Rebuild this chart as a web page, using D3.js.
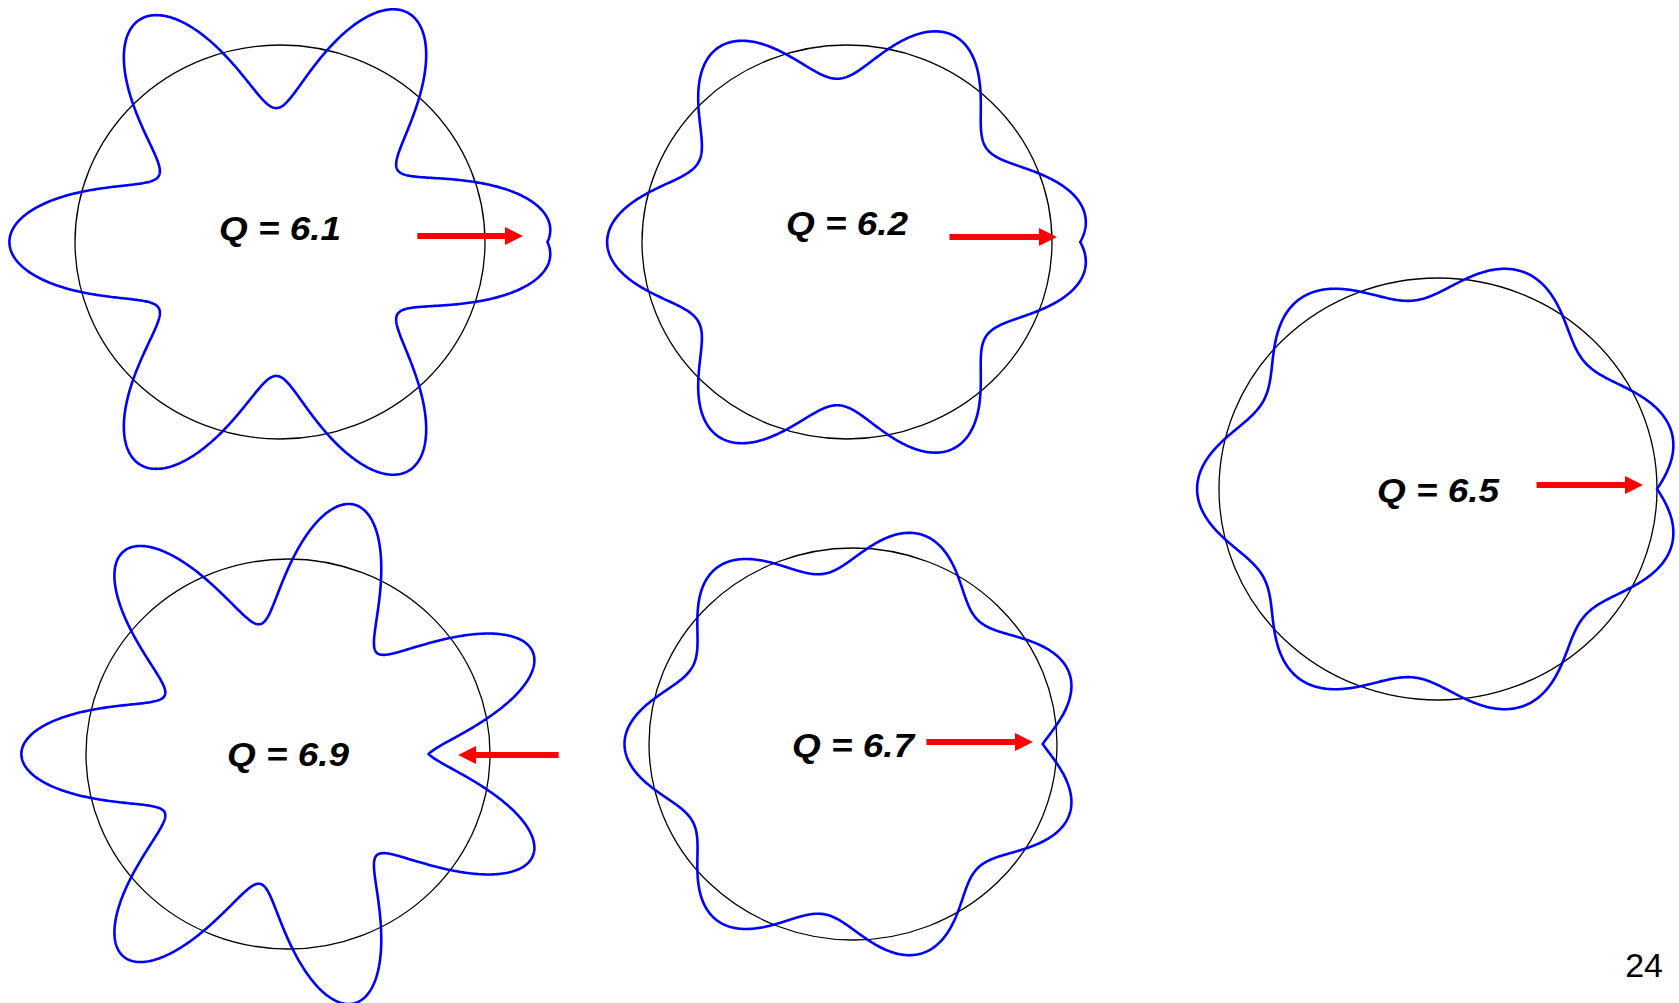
<!DOCTYPE html>
<html>
<head>
<meta charset="utf-8">
<script src="https://d3js.org/d3.v7.min.js"></script>
<style>
body { margin: 0; background: #fff; }
svg { display: block; }
.label { font-family: Arial, "Liberation Sans", sans-serif; font-weight: bold; font-style: italic; font-size: 33px; fill: #000; }
.page { font-family: Arial, "Liberation Sans", sans-serif; font-size: 34px; fill: #000; }
</style>
</head>
<body>
<svg width="1679" height="1003"></svg>
<script>
// tune of each closed orbit
var tunes = [6.1, 6.2, 6.5, 6.9, 6.7];
var labels = ["Q = 6.1", "Q = 6.2", "Q = 6.5", "Q = 6.9", "Q = 6.7"];
// radial distortion amplitude (fraction of the ideal orbit radius)
var amplitudes = [0.32, 0.17, 0.10, 0.32, 0.12];
// arrow start / end along the kick direction, in orbit radii
var arrowFrom = [0.67, 0.50, 0.45, 1.34, 0.36];
var arrowTo   = [1.185, 1.024, 0.936, 0.842, 0.882];
var pageNumber = "24";

// layout of each panel on the slide (pixels)
var panels = [
  {cx: 280, cy: 242, rx: 205, ry: 197, ay: 6, ly: -2},
  {cx: 847, cy: 242, rx: 205, ry: 197, ay: 5, ly: -7},
  {cx: 1438, cy: 489, rx: 219, ry: 211, ay: 4, ly: 13},
  {cx: 288, cy: 754, rx: 202, ry: 195, ay: -1, ly: 12},
  {cx: 853, cy: 744, rx: 204, ry: 196, ay: 2, ly: 13}
];

var svg = d3.select("svg");
svg.append("rect").attr("width", 1679).attr("height", 1003).attr("fill", "#fff");

// closed orbit after a single kick at angle 0
function orbit(Q, a, n) {
  var pts = [];
  for (var i = 0; i <= n; i++) {
    var phi = -Math.PI + 2 * Math.PI * i / n;
    var r = 1 + a * Math.cos(Q * (Math.abs(phi) - Math.PI));
    pts.push([r * Math.cos(phi), r * Math.sin(phi)]);
  }
  return pts;
}

tunes.forEach(function(Q, i) {
  var p = panels[i];
  var xs = d3.scaleLinear().domain([-1, 1]).range([p.cx - p.rx, p.cx + p.rx]);
  var ys = d3.scaleLinear().domain([-1, 1]).range([p.cy + p.ry, p.cy - p.ry]);
  var g = svg.append("g");

  // ideal orbit
  g.append("ellipse")
    .attr("cx", xs(0)).attr("cy", ys(0))
    .attr("rx", xs(1) - xs(0)).attr("ry", ys(-1) - ys(0))
    .attr("fill", "none").attr("stroke", "#000").attr("stroke-width", 1.3);

  // distorted orbit
  var line = d3.line().x(function(d){ return xs(d[0]); }).y(function(d){ return ys(d[1]); });
  g.append("path")
    .datum(orbit(Q, amplitudes[i], 1440))
    .attr("d", line)
    .attr("fill", "none").attr("stroke", "#0000ff").attr("stroke-width", 2.6)
    .attr("stroke-linejoin", "round");

  // kick arrow
  var x0 = xs(arrowFrom[i]), x1 = xs(arrowTo[i]), y = ys(0) - p.ay;
  var dir = x1 > x0 ? 1 : -1, head = 18, hw = 9;
  g.append("line")
    .attr("x1", x0).attr("y1", y).attr("x2", x1 - dir * head).attr("y2", y)
    .attr("stroke", "#ff0000").attr("stroke-width", 6);
  g.append("path")
    .attr("d", "M" + x1 + "," + y + "L" + (x1 - dir * head) + "," + (y - hw) + "L" + (x1 - dir * head) + "," + (y + hw) + "Z")
    .attr("fill", "#ff0000");

  // label (slide text is a bit stretched horizontally)
  g.append("text").attr("class", "label")
    .attr("transform", "translate(" + xs(0) + "," + (ys(0) + p.ly) + ") scale(1.12,1)")
    .attr("text-anchor", "middle")
    .text(labels[i]);
});

svg.append("text").attr("class", "page")
  .attr("x", 1663).attr("y", 977).attr("text-anchor", "end")
  .text(pageNumber);
</script>
</body>
</html>
